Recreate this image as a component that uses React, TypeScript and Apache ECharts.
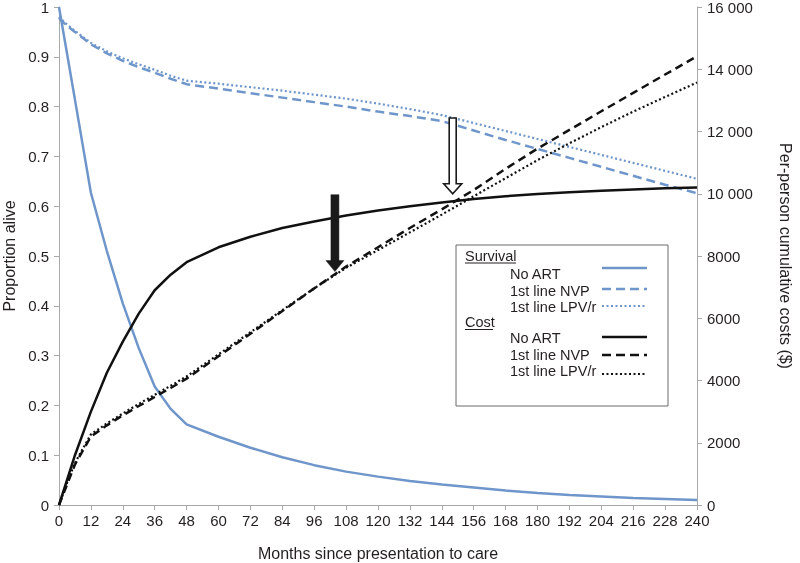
import React, { useEffect, useRef } from "react";
import * as echarts from "echarts";

const months = [0, 3, 6, 12, 18, 24, 30, 36, 42, 48, 60, 72, 84, 96, 108, 120, 132, 144, 156, 168, 180, 192, 204, 216, 228, 240];

const survivalNoArt = [1, 0.907, 0.814, 0.627, 0.51, 0.405, 0.315, 0.238, 0.193, 0.162, 0.137, 0.115, 0.096, 0.08, 0.067, 0.057, 0.048, 0.041, 0.035, 0.029, 0.024, 0.02, 0.017, 0.014, 0.012, 0.01];
const survivalNvp = [0.978, 0.962, 0.95, 0.925, 0.907, 0.892, 0.879, 0.868, 0.856, 0.845, 0.836, 0.827, 0.818, 0.809, 0.8, 0.79, 0.781, 0.771, 0.752, 0.733, 0.715, 0.697, 0.679, 0.661, 0.643, 0.626];
const survivalLpv = [0.98, 0.965, 0.952, 0.928, 0.911, 0.897, 0.885, 0.874, 0.862, 0.852, 0.846, 0.839, 0.832, 0.824, 0.816, 0.806, 0.795, 0.783, 0.767, 0.751, 0.735, 0.719, 0.703, 0.687, 0.671, 0.655];

const costNoArt = [0, 800, 1600, 3000, 4250, 5250, 6150, 6900, 7400, 7800, 8280, 8620, 8900, 9110, 9300, 9460, 9600, 9720, 9830, 9920, 9995, 10050, 10100, 10140, 10175, 10200];
const costNvp = [0, 650, 1300, 2200, 2560, 2880, 3180, 3470, 3760, 4060, 4780, 5500, 6230, 6960, 7660, 8280, 8900, 9500, 10120, 10800, 11450, 12050, 12650, 13240, 13830, 14420];
const costLpv = [0, 700, 1350, 2270, 2620, 2940, 3250, 3540, 3830, 4130, 4840, 5550, 6260, 6960, 7620, 8190, 8760, 9330, 9920, 10500, 11080, 11620, 12140, 12640, 13110, 13573];

const xTicks = { min: 0, max: 240, interval: 12 };
const leftTicks = { min: 0, max: 1, interval: 0.1 };
const rightTicks = { min: 0, max: 16000, interval: 2000 };

const legendSurvival = ["No ART", "1st line NVP", "1st line LPV/r"];
const legendCost = ["No ART", "1st line NVP", "1st line LPV/r"];

export default function App() {
  const ref = useRef<HTMLDivElement>(null);
  useEffect(() => {
    const chart = echarts.init(ref.current!, null, { renderer: "svg" });
    const font = "'Liberation Sans', Arial, Helvetica, sans-serif";
    const textColor = "#231f20";
    const axisColor = "#a9a9a9";
    const blue = "#6f96cb";
    const black = "#111111";
    const pairs = (vals: number[]) => months.map((m, i) => [m, vals[i]]);

    const line = (name: string, vals: number[], color: string, type: any, yAxisIndex: number, width: number) => ({
      name,
      type: "line",
      yAxisIndex,
      data: pairs(vals),
      showSymbol: false,
      symbol: "none",
      smooth: false,
      lineStyle: { color, width, type },
      itemStyle: { color },
      z: yAxisIndex === 1 ? 3 : 2,
    });

    chart.setOption({
      animation: false,
      textStyle: { fontFamily: font },
      grid: { left: 59, right: 103, top: 7, bottom: 58, containLabel: false, outerBoundsMode: "none" },
      xAxis: {
        type: "value",
        ...xTicks,
        name: "Months since presentation to care",
        nameLocation: "middle",
        nameGap: 40,
        nameTextStyle: { color: textColor, fontSize: 16, fontFamily: font },
        axisLine: { show: true, lineStyle: { color: axisColor, width: 1 } },
        axisTick: { show: true, length: 5, lineStyle: { color: axisColor } },
        axisLabel: { color: textColor, fontSize: 15, margin: 8, fontFamily: font },
        splitLine: { show: false },
      },
      yAxis: [
        {
          type: "value",
          ...leftTicks,
          name: "Proportion alive",
          nameLocation: "middle",
          nameGap: 40,
          nameTextStyle: { color: textColor, fontSize: 16, fontFamily: font },
          axisLine: { show: true, lineStyle: { color: axisColor, width: 1 } },
          axisTick: { show: true, length: 5, lineStyle: { color: axisColor } },
          axisLabel: {
            color: textColor, fontSize: 15, margin: 10, fontFamily: font,
            formatter: (v: number) => (Math.round(v * 10) / 10).toString(),
          },
          splitLine: { show: false },
        },
        {
          type: "value",
          ...rightTicks,
          position: "right",
          name: "Per-person cumulative costs ($)",
          nameLocation: "middle",
          nameGap: 80,
          nameRotate: -90,
          nameTextStyle: { color: textColor, fontSize: 16, fontFamily: font },
          axisLine: { show: true, lineStyle: { color: axisColor, width: 1 } },
          axisTick: { show: true, length: 5, lineStyle: { color: axisColor } },
          axisLabel: {
            color: textColor, fontSize: 15, margin: 10, fontFamily: font,
            formatter: (v: number) => (v >= 10000 ? `${Math.floor(v / 1000)} ${String(v % 1000).padStart(3, "0")}` : String(v)),
          },
          splitLine: { show: false },
        },
      ],
      series: [
        line("Survival: No ART", survivalNoArt, blue, "solid", 0, 2.5),
        line("Survival: 1st line NVP", survivalNvp, blue, [9, 5], 0, 2.5),
        line("Survival: 1st line LPV/r", survivalLpv, blue, [2, 2.5], 0, 2.2),
        line("Cost: No ART", costNoArt, black, "solid", 1, 2.5),
        line("Cost: 1st line NVP", costNvp, black, [8, 5], 1, 2.5),
        line("Cost: 1st line LPV/r", costLpv, black, [2, 2.5], 1, 2.2),
      ],
    });

    const toPx = (seriesIndex: number, m: number, v: number) =>
      chart.convertToPixel({ seriesIndex }, [m, v]) as number[];

    const arrowPoints = (x: number, yTop: number, yTip: number, shaftW: number, headW: number, headL: number) => [
      [x - shaftW / 2, yTop],
      [x + shaftW / 2, yTop],
      [x + shaftW / 2, yTip - headL],
      [x + headW / 2, yTip - headL],
      [x, yTip],
      [x - headW / 2, yTip - headL],
      [x - shaftW / 2, yTip - headL],
    ];

    const fTop = toPx(3, 103.8, 9970);
    const fTip = toPx(3, 103.8, 7500);
    const hTop = toPx(0, 148.1, 0.777);
    const hTip = toPx(0, 148.1, 0.625);

    const lx = 456, ly = 245, lw = 212, lh = 161;
    const textX = 510;
    const sampleX1 = 602, sampleX2 = 647;
    const rowsS = [274, 290.5, 307];
    const rowsC = [338, 354.5, 371];
    const sampleYS = [268, 289, 306];
    const sampleYC = [337, 355, 374];
    const dashes: any[] = [null, [9, 5], [2, 2.5]];

    const legendEls: any[] = [
      { type: "rect", shape: { x: lx, y: ly, width: lw, height: lh }, style: { fill: "#fff", stroke: "#6a6a6a", lineWidth: 1 }, z: 10 },
      { type: "text", x: 465, y: 256, style: { text: "Survival", fill: textColor, font: `14.5px ${font}`, textVerticalAlign: "middle" }, z: 11 },
      { type: "line", shape: { x1: 465, y1: 263, x2: 516, y2: 263 }, style: { stroke: textColor, lineWidth: 1 }, z: 11 },
      { type: "text", x: 465, y: 322, style: { text: "Cost", fill: textColor, font: `14.5px ${font}`, textVerticalAlign: "middle" }, z: 11 },
      { type: "line", shape: { x1: 465, y1: 329.5, x2: 493, y2: 329.5 }, style: { stroke: textColor, lineWidth: 1 }, z: 11 },
    ];
    legendSurvival.forEach((t, i) => {
      legendEls.push({ type: "text", x: textX, y: rowsS[i], style: { text: t, fill: textColor, font: `14.5px ${font}`, textVerticalAlign: "middle" }, z: 11 });
      legendEls.push({ type: "line", shape: { x1: sampleX1, y1: sampleYS[i], x2: sampleX2, y2: sampleYS[i] }, style: { stroke: blue, lineWidth: i === 2 ? 2.2 : 2.5, lineDash: dashes[i] }, z: 11 });
    });
    legendCost.forEach((t, i) => {
      legendEls.push({ type: "text", x: textX, y: rowsC[i], style: { text: t, fill: textColor, font: `14.5px ${font}`, textVerticalAlign: "middle" }, z: 11 });
      legendEls.push({ type: "line", shape: { x1: sampleX1, y1: sampleYC[i], x2: sampleX2, y2: sampleYC[i] }, style: { stroke: black, lineWidth: i === 2 ? 2.2 : 2.5, lineDash: dashes[i] }, z: 11 });
    });

    chart.setOption({
      graphic: [
        ...legendEls,
        {
          type: "polygon",
          shape: { points: arrowPoints(fTop[0], fTop[1], fTip[1], 8, 18, 11) },
          style: { fill: "#1a1a1a", stroke: "#1a1a1a", lineWidth: 0.5 },
          z: 12,
        },
        {
          type: "polygon",
          shape: { points: arrowPoints(hTop[0], hTop[1], hTip[1], 7, 18, 10) },
          style: { fill: "#ffffff", stroke: "#1a1a1a", lineWidth: 1.6 },
          z: 12,
        },
      ],
    });

    return () => chart.dispose();
  }, []);
  return <div ref={ref} style={{ position: "fixed", left: 0, top: 0, width: 800, height: 563 }} />;
}
